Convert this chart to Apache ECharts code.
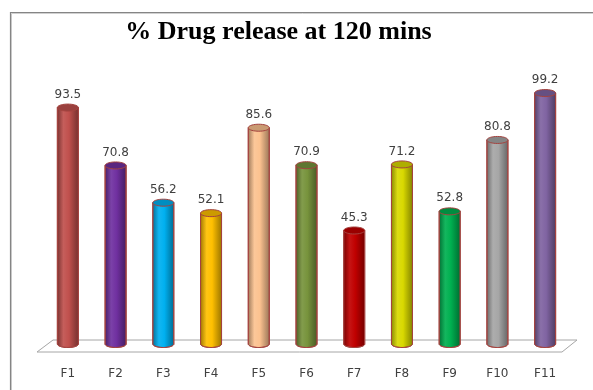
<!DOCTYPE html>
<html>
<head>
<meta charset="utf-8">
<script src="https://cdn.jsdelivr.net/npm/echarts@6/dist/echarts.min.js"></script>
<style>
  html, body { margin: 0; padding: 0; background: #ffffff; overflow: hidden; }
  #chart { width: 593px; height: 390px; }
</style>
</head>
<body>
<div id="chart"></div>
<script>
// Formulations and their % drug release after 120 minutes
const categories = ['F1', 'F2', 'F3', 'F4', 'F5', 'F6', 'F7', 'F8', 'F9', 'F10', 'F11'];
const releaseValues = [93.5, 70.8, 56.2, 52.1, 85.6, 70.9, 45.3, 71.2, 52.8, 80.8, 99.2];
const barColors = ['#C0504D', '#7030A0', '#00B0F0', '#FFC000', '#FCC290', '#77933C',
                   '#C00000', '#D9D900', '#00B050', '#A6A6A6', '#8064A2'];
const chartTitle = '% Drug release at 120 mins';

// scale an rgb hex colour towards black (f<1) or white (f>1)
function shade(hex, f) {
  const n = parseInt(hex.slice(1), 16);
  let rgb = [(n >> 16) & 255, (n >> 8) & 255, n & 255];
  rgb = rgb.map(c => f <= 1 ? Math.round(c * f) : Math.round(c + (255 - c) * (f - 1)));
  return 'rgb(' + rgb.join(',') + ')';
}

// points of an ellipse arc from angle a0 to a1
function arcPoints(cx, cy, rx, ry, a0, a1, steps) {
  const pts = [];
  for (let i = 0; i <= steps; i++) {
    const a = a0 + (a1 - a0) * i / steps;
    pts.push([cx + rx * Math.cos(a), cy + ry * Math.sin(a)]);
  }
  return pts;
}

const chart = echarts.init(document.getElementById('chart'), null, { renderer: 'canvas' });

function renderCylinder(params, api) {
  const idx = api.value(0);
  const val = api.value(1);
  const top = api.coord([idx, val]);
  const base = api.coord([idx, 0]);
  const rx = 10.5, ry = 3.5;
  const cx = top[0];
  const color = barColors[params.dataIndex];
  const outline = '#A4433F';

  const body = [[cx - rx, top[1]], [cx - rx, base[1] - 2]]
    .concat(arcPoints(cx, base[1] - 2, rx, ry, Math.PI, 0, 24))
    .concat([[cx + rx, top[1]]]);
  const cap = arcPoints(cx, top[1], rx, ry, 0, Math.PI * 2, 36);

  return {
    type: 'group',
    children: [
      {
        type: 'polygon',
        shape: { points: body },
        style: {
          fill: new echarts.graphic.LinearGradient(0, 0, 1, 0, [
            { offset: 0, color: shade(color, 0.62) },
            { offset: 0.3, color: shade(color, 1.08) },
            { offset: 0.55, color: color },
            { offset: 1, color: shade(color, 0.6) }
          ]),
          stroke: outline,
          lineWidth: 1
        }
      },
      {
        type: 'polygon',
        shape: { points: cap },
        style: { fill: shade(color, 0.8), stroke: outline, lineWidth: 1 }
      },
      {
        type: 'text',
        style: {
          text: String(val),
          x: cx,
          y: top[1] - 13,
          align: 'center',
          verticalAlign: 'middle',
          fill: '#404040',
          font: '12px "DejaVu Sans", sans-serif'
        }
      }
    ]
  };
}

chart.setOption({
  animation: false,
  backgroundColor: '#ffffff',
  grid: { left: 44, right: 24, top: 91, bottom: 44 },
  xAxis: {
    type: 'category',
    data: categories,
    axisLine: { show: false },
    axisTick: { show: false },
    axisLabel: {
      margin: 22,
      color: '#404040',
      fontFamily: '"DejaVu Sans", sans-serif',
      fontSize: 12
    }
  },
  yAxis: {
    type: 'value',
    min: 0,
    max: 100,
    show: false,
    splitLine: { show: false }
  },
  series: [{
    type: 'custom',
    renderItem: renderCylinder,
    data: releaseValues.map((v, i) => [i, v]),
    z: 3
  }]
});

// floor plane and frame, placed from the category band positions
const firstCenter = chart.convertToPixel({ gridIndex: 0 }, [0, 0]);
const secondCenter = chart.convertToPixel({ gridIndex: 0 }, [1, 0]);
const lastCenter = chart.convertToPixel({ gridIndex: 0 }, [categories.length - 1, 0]);
const band = secondCenter[0] - firstCenter[0];
const floorLeft = firstCenter[0] - band / 2;
const floorRight = lastCenter[0] + band / 2;
const zy = firstCenter[1];
chart.setOption({
  graphic: [
    {
      type: 'polyline',
      z: 0,
      shape: { points: [[11.5, 390], [11.5, 13.5], [593, 13.5]] },
      style: { fill: null, stroke: '#d0d0d0', lineWidth: 1 }
    },
    {
      type: 'polyline',
      z: 0,
      shape: { points: [[10.5, 390], [10.5, 12.5], [593, 12.5]] },
      style: { fill: null, stroke: '#858585', lineWidth: 1.2 }
    },
    {
      type: 'polygon',
      z: 1,
      shape: {
        points: [
          [floorLeft - 7, zy + 6],
          [floorLeft + 9, zy - 6],
          [floorRight + 8, zy - 6],
          [floorRight - 7, zy + 6]
        ]
      },
      style: { fill: '#ffffff', stroke: '#a6a6a6', lineWidth: 1 }
    },
    {
      type: 'text',
      z: 5,
      style: {
        text: chartTitle,
        x: 278.5,
        y: 32,
        align: 'center',
        verticalAlign: 'middle',
        fill: '#000000',
        font: 'bold 26px "Liberation Serif", serif'
      }
    }
  ]
});
</script>
</body>
</html>
